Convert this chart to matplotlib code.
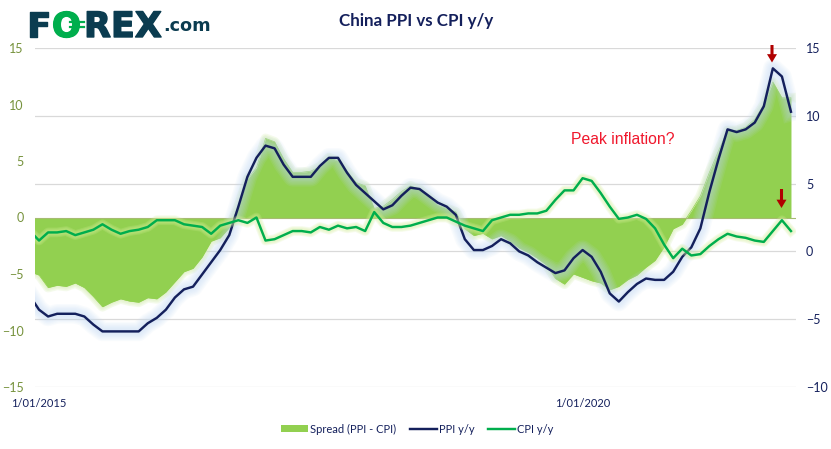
import matplotlib
matplotlib.use('Agg')
import matplotlib.pyplot as plt
import matplotlib.patheffects as pe
import numpy as np

# index -1 is Dec 2014, it gets cut off by the left edge of the axes
ppi = [-3.3,
       -4.3, -4.8, -4.6, -4.6, -4.6, -4.8, -5.4, -5.9, -5.9, -5.9, -5.9, -5.9,
       -5.3, -4.9, -4.3, -3.4, -2.8, -2.6, -1.7, -0.8, 0.1, 1.2, 3.3, 5.5,
       6.9, 7.8, 7.6, 6.4, 5.5, 5.5, 5.5, 6.3, 6.9, 6.9, 5.8, 4.9,
       4.3, 3.7, 3.1, 3.4, 4.1, 4.7, 4.6, 4.1, 3.6, 3.3, 2.7, 0.9,
       0.1, 0.1, 0.4, 0.9, 0.6, 0.0, -0.3, -0.8, -1.2, -1.6, -1.4, -0.5,
       0.1, -0.4, -1.5, -3.1, -3.7, -3.0, -2.4, -2.0, -2.1, -2.1, -1.5, -0.4,
       0.3, 1.7, 4.4, 6.8, 9.0, 8.8, 9.0, 9.5, 10.7, 13.5, 12.9, 10.3]
cpi = [1.5,
       0.8, 1.4, 1.4, 1.5, 1.2, 1.4, 1.6, 2.0, 1.6, 1.3, 1.5, 1.6,
       1.8, 2.3, 2.3, 2.3, 2.0, 1.9, 1.8, 1.3, 1.9, 2.1, 2.3, 2.1,
       2.5, 0.8, 0.9, 1.2, 1.5, 1.5, 1.4, 1.8, 1.6, 1.9, 1.7, 1.8,
       1.5, 2.9, 2.1, 1.8, 1.8, 1.9, 2.1, 2.3, 2.5, 2.5, 2.2, 1.9,
       1.7, 1.5, 2.3, 2.5, 2.7, 2.7, 2.8, 2.8, 3.0, 3.8, 4.5, 4.5,
       5.4, 5.2, 4.3, 3.3, 2.4, 2.5, 2.7, 2.4, 1.7, 0.5, -0.5, 0.2,
       -0.3, -0.2, 0.4, 0.9, 1.3, 1.1, 1.0, 0.8, 0.7, 1.5, 2.3, 1.5]
spread = [-4.8,
          -5.1, -6.2, -6.0, -6.1, -5.8, -6.2, -7.0, -7.9, -7.5, -7.2, -7.4, -7.5,
          -7.1, -7.2, -6.6, -5.7, -4.8, -4.5, -3.5, -2.1, -1.8, -0.9, 1.0, 3.4,
          4.4, 7.0, 6.7, 5.2, 4.0, 4.0, 4.1, 4.5, 5.3, 5.0, 4.1, 3.1,
          2.8, 0.8, 1.0, 1.6, 2.3, 2.8, 2.5, 1.8, 1.1, 0.8, 0.5, -1.0,
          -1.6, -1.4, -1.9, -1.6, -2.1, -2.7, -3.1, -3.6, -4.2, -5.4, -5.9, -5.0,
          -5.3, -5.6, -5.8, -6.4, -6.1, -5.5, -5.1, -4.4, -3.8, -2.6, -1.0, -0.6,
          0.6, 1.9, 4.0, 5.9, 7.7, 7.7, 8.0, 8.7, 10.0, 12.0, 10.6, 10.6]
months = np.arange(-1, 84)
date_ticks = [0, 60]
date_labels = ['1/01/2015', '1/01/2020']
left_ticks = [-15, -10, -5, 0, 5, 10, 15]
right_ticks = [-10, -5, 0, 5, 10, 15]

NAVY = '#14205c'
GREEN = '#00ae4d'
AREA = '#92d050'
OLIVE = '#76923c'
LOGO = '#0b3c50'
W, H = 831, 449

plt.rcParams['font.family'] = ['Lato', 'DejaVu Sans']


def glow(color, widths, alpha):
    # soft edge, stacked wide strokes
    fx = [pe.Stroke(linewidth=w, foreground=color, alpha=alpha) for w in widths]
    return fx + [pe.Normal()]


def px(x, y):
    return x / W, 1 - y / H


fig = plt.figure(figsize=(W / 100, H / 100), dpi=100)
ax = fig.add_axes([34.5 / W, 1 - 387 / H, 761 / W, 339 / H])
ax2 = ax.twinx()

# area on the left axis
area = ax.fill_between(months, spread, 0, color=AREA, lw=0, label='Spread (PPI - CPI)', zorder=3)
edge, = ax.plot(months, spread, color=AREA, lw=0.5, zorder=2)
edge.set_path_effects(glow('#d5eeb0', [7, 5, 3], 0.25))
ax.axhline(0, color='#a6bb72', lw=0.8, zorder=4)

ax.set_xlim(-0.5, 83.5)
ax.set_ylim(-15, 15)
ax.set_yticks(left_ticks)
ax.set_xticks(date_ticks)
ax.set_xticklabels(date_labels)
ax.tick_params(axis='y', colors=OLIVE, labelsize=9, length=0, pad=8)
ax.tick_params(axis='x', colors=NAVY, labelsize=8, length=0, pad=8)

# lines and grid on the right axis
ax2.set_ylim(-10, 15)
ax2.set_yticks(right_ticks)
ax2.tick_params(axis='y', colors=NAVY, labelsize=9, length=0, pad=7.5)
ax2.yaxis.grid(True, color='#d9d9d9', lw=0.9, zorder=0)
ax2.set_axisbelow(True)
for a in (ax, ax2):
    for s in a.spines.values():
        s.set_visible(False)

# grid has to stay under the area
ax.set_zorder(2)
ax.patch.set_visible(False)
ax2.set_zorder(1)

ax3 = fig.add_axes(ax.get_position(), frameon=False, zorder=3)
ax3.set_xlim(-0.5, 83.5)
ax3.set_ylim(-10, 15)
ax3.set_xticks([])
ax3.set_yticks([])
line_ppi, = ax3.plot(months, ppi, color=NAVY, lw=1.75, label='PPI y/y', zorder=5)
line_ppi.set_path_effects(glow('#c0d8f5', [14, 12, 10, 8, 6, 4], 0.1))
line_cpi, = ax3.plot(months, cpi, color=GREEN, lw=1.75, label='CPI y/y', zorder=6)
line_cpi.set_path_effects(glow('#d5ef9a', [7, 5.5, 4], 0.2))

# the two arrows
arrow = dict(arrowstyle='simple,head_length=0.6,head_width=0.72,tail_width=0.22', color='#b00000',
             lw=0, shrinkA=0, shrinkB=0)
ax3.annotate('', xy=px(772, 62.5), xytext=px(772, 45), xycoords='figure fraction',
             textcoords='figure fraction', arrowprops=arrow, zorder=8)
ax3.annotate('', xy=px(781.5, 208), xytext=px(781.5, 189), xycoords='figure fraction',
             textcoords='figure fraction', arrowprops=arrow, zorder=8)

fig.text(*px(622.5, 139), 'Peak inflation?', color='#f0182d', fontsize=11.3, ha='center', va='center',
         family='Liberation Sans', zorder=10)
fig.text(*px(416, 21), 'China PPI vs CPI y/y', color=NAVY, fontsize=12.2, fontweight='bold',
         ha='center', va='center')

# logo
thick = [pe.withStroke(linewidth=1.0, foreground=LOGO)]
fig.text(*px(27, 37), 'F', color=LOGO, fontsize=24.7, fontweight='bold', family='DejaVu Sans',
         ha='left', va='baseline', path_effects=thick)
fig.text(*px(84, 37), 'REX', color=LOGO, fontsize=25.2, fontweight='bold', family='DejaVu Sans',
         ha='left', va='baseline', path_effects=thick)
fig.text(*px(163, 31), '.com', color=LOGO, fontsize=12.7, fontweight='bold', family='DejaVu Sans',
         ha='left', va='baseline')
fig.text(*px(66.5, 37), 'O', color=GREEN, fontsize=24.7, fontweight='bold', family='DejaVu Sans',
         ha='center', va='baseline', path_effects=[pe.withStroke(linewidth=1.0, foreground=GREEN)])
for yy in (21.5, 26.5):
    fig.add_artist(plt.Line2D([px(70, yy)[0], px(84, yy)[0]], [px(70, yy)[1]] * 2, color=GREEN, lw=1.6))

handles = [area, line_ppi, line_cpi]
leg = fig.legend(handles, [h.get_label() for h in handles], ncol=3, loc='center',
                 bbox_to_anchor=px(417.5, 429), frameon=False, fontsize=8, labelcolor=NAVY,
                 handlelength=2.43, handleheight=0.6, handletextpad=0.2, columnspacing=1.2,
                 borderpad=0)
for h in leg.get_lines():
    h.set_path_effects([pe.Normal()])

fig.savefig('out.png', dpi=100)
